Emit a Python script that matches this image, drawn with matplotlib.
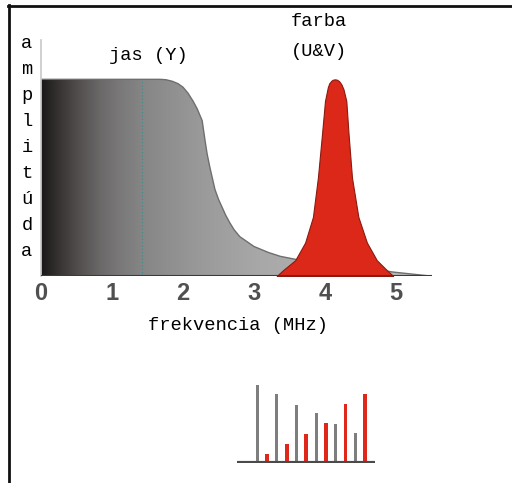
import matplotlib
matplotlib.use("Agg")
import matplotlib.pyplot as plt
import numpy as np
from matplotlib.colors import LinearSegmentedColormap
from matplotlib.lines import Line2D

# luminance (Y) curve
jas_f = [0.0, 1.68, 1.76, 1.85, 1.93, 2.0, 2.07, 2.14, 2.2, 2.27, 2.31, 2.34, 2.38,
         2.45, 2.5, 2.55, 2.6, 2.66, 2.72, 2.8, 2.9, 3.0, 3.1, 3.2, 3.37, 3.65,
         4.0, 4.5, 4.96, 5.48]
jas_a = [1.0, 1.0, 0.998, 0.99, 0.978, 0.96, 0.93, 0.89, 0.85, 0.79, 0.69, 0.62, 0.55,
         0.44, 0.39, 0.35, 0.31, 0.27, 0.235, 0.2, 0.175, 0.15, 0.135, 0.12, 0.10, 0.08,
         0.065, 0.045, 0.02, 0.0]

# chrominance (U&V) peak
farba_f = [3.32, 3.41, 3.58, 3.72, 3.83, 3.90, 3.96, 4.00, 4.04, 4.06, 4.09, 4.11,
           4.14, 4.17, 4.20, 4.23, 4.26, 4.30, 4.33, 4.38, 4.47, 4.59, 4.73, 4.87, 4.96]
farba_a = [0.0, 0.03, 0.08, 0.17, 0.30, 0.50, 0.73, 0.89, 0.96, 0.98, 0.993, 0.998,
           1.0, 0.998, 0.99, 0.975, 0.95, 0.89, 0.73, 0.50, 0.30, 0.17, 0.08, 0.03, 0.0]

x_ticks = [0, 1, 2, 3, 4, 5]
y_letters = list("amplitúda")

# small interleaved spectrum lines below
gray_lines = [78, 69, 58, 50, 39, 30]
red_lines = [9, 19, 29, 40, 59, 69]

W, H = 512, 483
fig = plt.figure(figsize=(W / 100, H / 100), dpi=100)
mono = "Liberation Mono"


def px_axes(left, top, right, bottom):
    return fig.add_axes([left / W, 1 - bottom / H, (right - left) / W, (bottom - top) / H])


def px_text(x, y, s, **kw):
    fig.text(x / W, 1 - y / H, s, ha="center", va="center", **kw)


# main spectrum axes: freq 0 at x=41 px, 71 px per MHz, base at y=276
ax = px_axes(41, 40, 41 + 6 * 71, 276)
ax.set_xlim(0, 6)
ax.set_ylim(0, 1.2)

grad = LinearSegmentedColormap.from_list("jas", [
    (0.0, "#1a1818"), (0.05, "#3a3636"), (0.1, "#555150"), (0.15, "#6a6868"),
    (0.2, "#7a7878"), (0.26, "#868686"), (0.41, "#9a9a9a"), (0.56, "#a8a8a8"),
    (1.0, "#bcbcbc")])
poly = ax.fill_between(jas_f, jas_a, 0, color="none", edgecolor="#6e6e6e", linewidth=1.0, zorder=2)
img = ax.imshow(np.linspace(0, 1, 256).reshape(1, -1), cmap=grad, aspect="auto",
                extent=(0, 5.5, 0, 1.0), zorder=1, interpolation="bilinear")
img.set_clip_path(poly.get_paths()[0], transform=ax.transData)
ax.axvline(1.42, ymax=1.0 / 1.2, color="#3a8a8a", linestyle=(0, (1, 2)), linewidth=0.8, zorder=3)

ax.fill_between(farba_f, farba_a, 0, color="#dc2818", edgecolor="#8a1a10", linewidth=0.8, zorder=4)
ax.hlines(0, 0, 5.5, color="#3a3a3a", linewidth=1.5, zorder=5)

for s in ["top", "right", "bottom"]:
    ax.spines[s].set_visible(False)
ax.spines["left"].set_color("#c8c8c8")
ax.spines["left"].set_linewidth(1.2)
ax.set_yticks([])
ax.set_xticks(x_ticks)
ax.set_xticklabels([str(t) for t in x_ticks], fontsize=17, fontweight="bold",
                   family="Liberation Sans", color="#505050")
ax.tick_params(axis="x", length=0, pad=4)
ax.patch.set_alpha(0)

px_text(238, 326, "frekvencia (MHz)", fontsize=13.5, family=mono)
px_text(148, 55, "jas (Y)", fontsize=13.5, family=mono)
px_text(319, 22, "farba", fontsize=13.5, family=mono)
px_text(319, 51, "(U&V)", fontsize=13.5, family=mono)
for i, ch in enumerate(y_letters):
    px_text(27, 44 + i * 25.9, ch, fontsize=13.5, family=mono)

# lower spectrum lines
bx = px_axes(237, 383, 375, 463)
bx.set_xlim(-2.04, 12.0)
bx.set_ylim(0, 80)
pos = np.arange(len(gray_lines) + len(red_lines))
bx.bar(pos[0::2], gray_lines, width=0.3, color="#7e7e7e", zorder=2)
bx.bar(pos[1::2], red_lines, width=0.4, color="#e0281a", zorder=2)
bx.axhline(0, color="#4a4a4a", linewidth=3, zorder=3)
bx.axis("off")

# frame lines (top and left)
fig.add_artist(Line2D([8 / W, 1], [1 - 5.5 / H, 1 - 5.5 / H], color="#111111", linewidth=2))
fig.add_artist(Line2D([8.5 / W, 8.5 / W], [1 - 5 / H, 0], color="#111111", linewidth=2))

fig.savefig("out.png", dpi=100)
